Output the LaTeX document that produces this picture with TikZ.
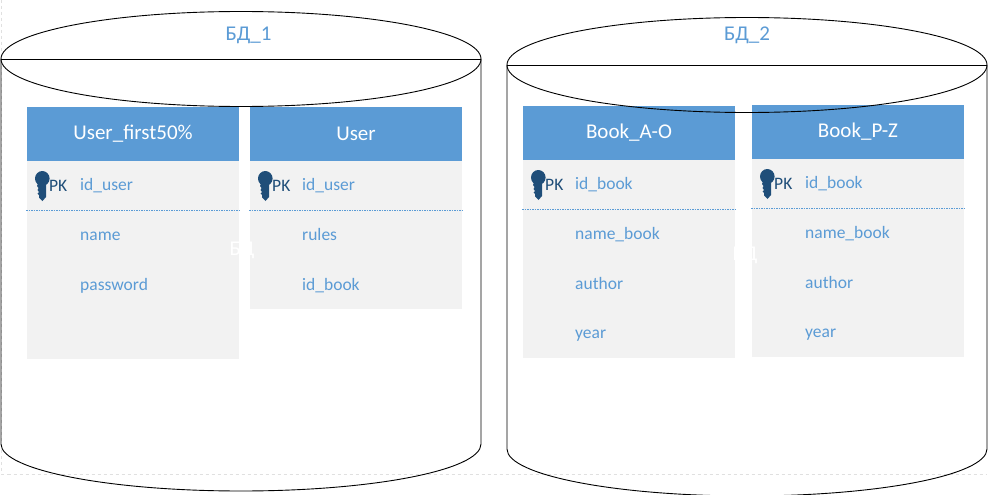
\documentclass[tikz,border=0pt]{standalone}
\usepackage{fontspec}
\setmainfont{Carlito}
\definecolor{hdr}{HTML}{5B9BD5}
\definecolor{bodyc}{HTML}{F2F2F2}
\definecolor{keyc}{HTML}{1F4E79}
\tikzset{
  hdrbox/.style={fill=hdr,draw=none},
  bodybox/.style={fill=bodyc,draw=none},
  hdrtext/.style={text=white,font=\fontsize{21}{21}\selectfont,anchor=center,inner sep=0pt},
  fieldtext/.style={text=hdr,font=\fontsize{17.5}{18}\selectfont,anchor=base west,inner sep=0pt},
  pktext/.style={text=keyc,font=\fontsize{17.5}{18}\selectfont,anchor=base west,inner sep=0pt},
  sepline/.style={draw=hdr,line width=1pt,dash pattern=on 1.5pt off 1pt},
  dbline/.style={draw=black,line width=0.9pt},
  dbtitle/.style={text=hdr,font=\fontsize{21}{21}\selectfont,anchor=center,inner sep=0pt},
  ghost/.style={text=white,font=\fontsize{21}{21}\selectfont,anchor=center,inner sep=0pt},
  framepart/.style={draw=black!12,line width=0.7pt,dashed},
}
% \keyicon{x}{y}: key with its top-left corner at x,y
\newcommand{\keyicon}[2]{%
  \fill[keyc,shift={(#1,#2)}] (7.3,7.5) ellipse[x radius=7.3,y radius=7.5]
    (4,10) -- (11,10) -- (11,26) -- (7.5,30) -- (4,26.5) -- (4,24) -- (2.5,22.5) -- (4,21) -- (2.5,19) -- (3.5,17) -- (2,15) -- cycle;}
% \dbtable{id}{x}{top}{bodybottom}{pkx}{fieldx}{title}
\newcommand{\dbtable}[7]{%
  \fill[bodybox] (#2,#3+54) rectangle (#2+212,#4);
  \fill[hdrbox] (#2,#3) rectangle (#2+212,#3+54);
  \node[hdrtext] (#1title) at (#2+106,#3+27) {#7};
  \draw[sepline] (#2-1,#3+103.5) -- (#2+213,#3+103.5);
  \keyicon{#2+8}{#3+64}
  \node[pktext] (#1pk) at (#2+#5,#3+84) {PK};
}
\begin{document}
\begin{tikzpicture}[x=1pt,y=-1pt]
\useasboundingbox (0,0) rectangle (994,495);
\fill[white] (0,0) rectangle (994,495);
\draw[framepart] (1.5,0) -- (1.5,474) -- (987,474);

\dbtable{a}{27}{107}{359}{22}{53}{User\_first50\%}
\node[fieldtext] (a1) at (80,190.5) {id\_user};
\node[fieldtext] (a2) at (80,240) {name};
\node[fieldtext] (a3) at (80,290) {password};

\dbtable{b}{250}{107}{309}{22}{52}{User}
\node[fieldtext] (b1) at (302,190.5) {id\_user};
\node[fieldtext] (b2) at (302,240) {rules};
\node[fieldtext] (b3) at (302,290) {id\_book};

\dbtable{c}{523}{106}{358}{22}{52}{Book\_A-O}
\node[fieldtext] (c1) at (575,189.5) {id\_book};
\node[fieldtext] (c2) at (575,239) {name\_book};
\node[fieldtext] (c3) at (575,289) {author};
\node[fieldtext] (c4) at (575,338) {year};

\dbtable{d}{752}{105}{357}{22}{52}{Book\_P-Z}
\node[fieldtext] (d1) at (805,188.5) {id\_book};
\node[fieldtext] (d2) at (805,238) {name\_book};
\node[fieldtext] (d3) at (805,288) {author};
\node[fieldtext] (d4) at (805,337) {year};

\node[ghost] (g1) at (242,250) {БД};
\node[ghost] (g2) at (745,255) {БД};

% cylinders
\draw[dbline] (1,59) -- (481,59);
\draw[dbline] (241,59) ellipse[x radius=240,y radius=47.5];
\draw[dbline] (1,59) -- (1,444) arc[start angle=180,end angle=0,x radius=240,y radius=47] -- (481,59);
\begin{scope}
\clip (0,0) rectangle (994,494.5);
\draw[dbline] (507,65) -- (987,65);
\draw[dbline] (747,65) ellipse[x radius=240,y radius=47.5];
\draw[dbline] (507,65) -- (507,449) arc[start angle=180,end angle=0,x radius=240,y radius=47] -- (987,65);
\end{scope}
\node[dbtitle] (t1) at (248.5,35.5) {БД\_1};
\node[dbtitle] (t2) at (747,35.5) {БД\_2};
\end{tikzpicture}
\end{document}
